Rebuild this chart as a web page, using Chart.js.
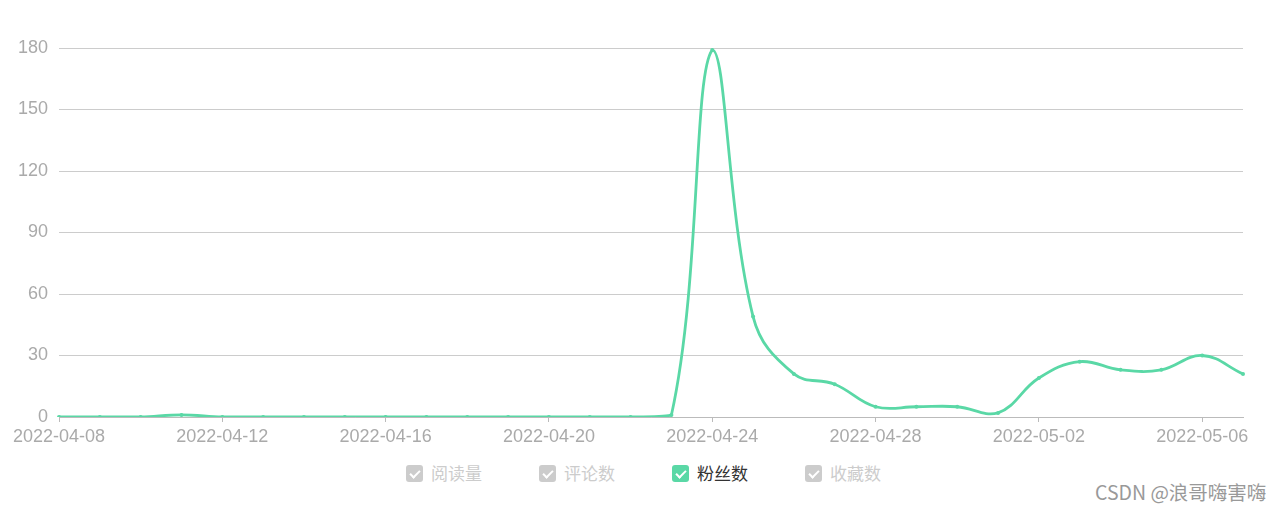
<!DOCTYPE html>
<html>
<head>
<meta charset="utf-8">
<script src="https://cdn.jsdelivr.net/npm/chart.js@4.4.0/dist/chart.umd.min.js"></script>
<style>
  body { margin: 0; background: #fff; font-family: "Liberation Sans", "Noto Sans CJK SC", sans-serif; }
  #wrap { position: relative; width: 1280px; height: 509px; overflow: hidden; }
  #box { position: absolute; left: 0; top: 0; width: 1280px; height: 455px; }
  .legend { position: absolute; top: 463px; left: 0; width: 1280px; height: 22px; }
  .item { position: absolute; top: 0; height: 20px; font-family: "Noto Sans CJK SC", sans-serif; font-size: 17px; line-height: 20px; color: #ccc; }
  .item .chk { position: absolute; left: 0; top: 2px; width: 17px; height: 17px; border-radius: 3px; background: #ccc; }
  .item .chk::after { content: ""; position: absolute; left: 6px; top: 3px; width: 4px; height: 8px; border: solid #fff; border-width: 0 2px 2px 0; transform: rotate(45deg); }
  .item span { position: absolute; left: 25px; top: 0; white-space: nowrap; }
  .item.on { color: #333; }
  .item.on .chk { background: #5ad8a6; }
  .mark { position: absolute; left: 1095px; top: 478px; font-family: "Noto Sans CJK SC", sans-serif; font-size: 19.5px; line-height: 28px; color: #999; text-shadow: 0 0 2px #fff; white-space: nowrap; }
</style>
</head>
<body>
<div id="wrap">
  <div id="box"><canvas id="fansChart"></canvas></div>
  <div class="legend" id="legend"></div>
  <div class="mark">CSDN @浪哥嗨害嗨</div>
</div>
<script>
// fechas del eje x
const days = ['2022-04-08','2022-04-09','2022-04-10','2022-04-11','2022-04-12','2022-04-13','2022-04-14',
  '2022-04-15','2022-04-16','2022-04-17','2022-04-18','2022-04-19','2022-04-20','2022-04-21','2022-04-22',
  '2022-04-23','2022-04-24','2022-04-25','2022-04-26','2022-04-27','2022-04-28','2022-04-29','2022-04-30',
  '2022-05-01','2022-05-02','2022-05-03','2022-05-04','2022-05-05','2022-05-06','2022-05-07'];

// 粉丝数 (único visible)
const fans = [0,0,0,1,0,0,0,0,0,0,0,0,0,0,0,1,179,49,21,16,5,5,5,2,19,27,23,23,30,21];

const yTicks = [0,30,60,90,120,150,180];
const legendNames = ['阅读量','评论数','粉丝数','收藏数'];
const legendOn = [false,false,true,false];

const green = '#5ad8a6';
const tickFont = { family: 'Liberation Sans', size: 18 };

// leyenda en html
const legendEl = document.getElementById('legend');
legendNames.forEach((name, i) => {
  const d = document.createElement('div');
  d.className = 'item' + (legendOn[i] ? ' on' : '');
  d.style.left = (406 + i * 133) + 'px';
  d.innerHTML = '<div class="chk"></div><span>' + name + '</span>';
  legendEl.appendChild(d);
});

new Chart(document.getElementById('fansChart'), {
  type: 'line',
  data: {
    labels: days,
    datasets: [{
      label: '粉丝数',
      data: fans,
      borderColor: green,
      backgroundColor: green,
      borderWidth: 2.8,
      pointRadius: 2,
      pointBorderWidth: 0,
      pointBackgroundColor: green,
      tension: 0.4,
      fill: false
    }]
  },
  options: {
    responsive: true,
    maintainAspectRatio: false,
    animation: false,
    layout: { padding: { top: 48, right: 37, left: 0, bottom: 0 } },
    plugins: { legend: { display: false }, tooltip: { enabled: false } },
    scales: {
      x: {
        offset: false,
        afterFit: s => { s.height = 38; },
        border: { display: true, color: '#bbb', width: 1 },
        grid: {
          drawOnChartArea: false,
          drawTicks: true,
          tickLength: 5,
          color: ctx => (ctx.index % 4 === 0 ? '#bbb' : 'rgba(0,0,0,0)')
        },
        ticks: {
          autoSkip: false,
          maxRotation: 0,
          padding: 4,
          color: '#aaa',
          font: tickFont,
          callback: function(v, i) { return i % 4 === 0 ? this.getLabelForValue(v) : ''; }
        }
      },
      y: {
        min: 0,
        max: 180,
        afterFit: s => { s.width = 59; },
        afterBuildTicks: s => { s.ticks = yTicks.map(v => ({ value: v })); },
        border: { display: false },
        grid: { color: '#ccc', drawTicks: false, lineWidth: 1 },
        ticks: { padding: 11, color: '#aaa', font: tickFont }
      }
    }
  }
});
</script>
</body>
</html>
